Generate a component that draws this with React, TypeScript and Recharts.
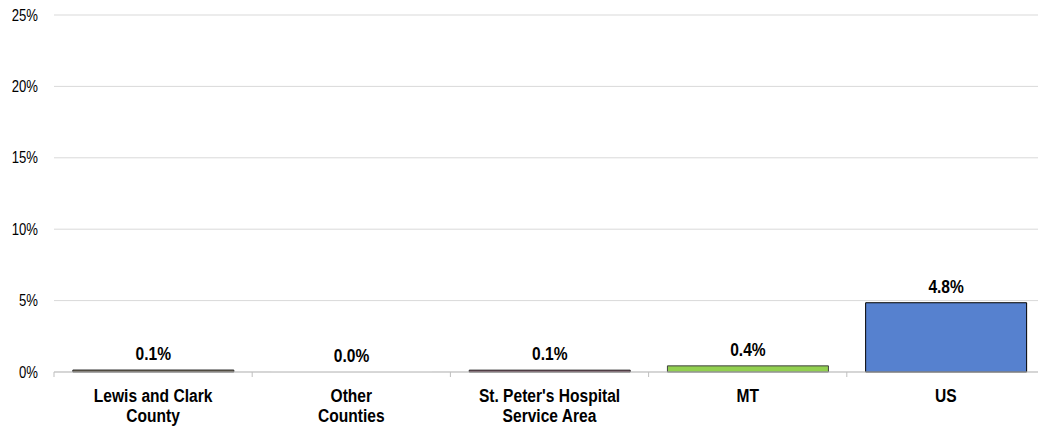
import React from "react";
import { BarChart, Bar, XAxis, YAxis, CartesianGrid, Cell, LabelList } from "recharts";

const categories = [
  "Lewis and Clark County",
  "Other Counties",
  "St. Peter's Hospital Service Area",
  "MT",
  "US",
];
const tickLines = [
  ["Lewis and Clark", "County"],
  ["Other", "Counties"],
  ["St. Peter's Hospital", "Service Area"],
  ["MT"],
  ["US"],
];
const values = [0.14, 0.01, 0.13, 0.43, 4.85];
const valueLabels = ["0.1%", "0.0%", "0.1%", "0.4%", "4.8%"];
const fills = ["#6f6450", "#ffffff", "#7a3450", "#92d050", "#5681cf"];
const strokes = ["#333333", "none", "#262626", "#404040", "#000000"];
const yTicks = [0, 5, 10, 15, 20, 25];

const data = categories.map((c, i) => ({
  name: c,
  value: values[i],
  label: valueLabels[i],
}));

const FONT = "'Liberation Sans', Arial, sans-serif";
const SX = 0.82;

const XTick = (props: any) => {
  const { x, y, payload } = props;
  const lines = tickLines[payload.index] || [String(payload.value)];
  const half = payload.offset || 0;
  const isLast = payload.index === categories.length - 1;
  return (
    <g>
      <line x1={x - half} x2={x - half} y1={y} y2={y + 5} stroke="#bfbfbf" strokeWidth={1} />
      {isLast && (
        <line x1={x + half} x2={x + half} y1={y} y2={y + 5} stroke="#bfbfbf" strokeWidth={1} />
      )}
      <g transform={`translate(${x},${y}) scale(${SX},1)`}>
        <text x={0} y={0} textAnchor="middle" fontFamily={FONT} fontWeight="bold" fontSize={19} fill="#000">
          {lines.map((l: string, i: number) => (
            <tspan key={i} x={0} dy={i === 0 ? 30 : 20}>
              {l}
            </tspan>
          ))}
        </text>
      </g>
    </g>
  );
};

const YTick = (props: any) => {
  const { x, y, payload } = props;
  return (
    <g transform={`translate(${x},${y}) scale(${SX},1)`}>
      <text x={0} y={0} dy={5.5} textAnchor="end" fontFamily={FONT} fontSize={16} fill="#000">
        {`${payload.value}%`}
      </text>
    </g>
  );
};

const ValueLabel = (props: any) => {
  const { x, y, width, value } = props;
  const cx = x + width / 2;
  return (
    <g transform={`translate(${cx},${y - 10}) scale(${SX},1)`}>
      <text x={0} y={0} textAnchor="middle" fontFamily={FONT} fontWeight="bold" fontSize={19} fill="#000">
        {value}
      </text>
    </g>
  );
};

export default function App() {
  return (
    <div
      style={{
        position: "absolute",
        left: 0,
        top: 0,
        width: 1038,
        height: 430,
        overflow: "hidden",
        background: "#fff",
      }}
    >
      <BarChart
        width={1050}
        height={430}
        data={data}
        margin={{ top: 15, right: 5, left: 0, bottom: 0 }}
        barCategoryGap="9.5%"
      >
        <CartesianGrid vertical={false} stroke="#d9d9d9" strokeWidth={1} />
        <XAxis
          dataKey="name"
          axisLine={{ stroke: "#bfbfbf", strokeWidth: 1 }}
          tickLine={false}
          tickSize={0}
          tickMargin={0}
          interval={0}
          tick={<XTick />}
          height={58}
        />
        <YAxis
          width={54}
          domain={[0, 25]}
          ticks={yTicks}
          axisLine={false}
          tickLine={false}
          tickSize={0}
          tickMargin={16}
          tick={<YTick />}
        />
        <Bar dataKey="value" isAnimationActive={false} strokeWidth={1}>
          {data.map((d, i) => (
            <Cell key={i} fill={fills[i]} stroke={strokes[i]} />
          ))}
          <LabelList dataKey="label" content={<ValueLabel />} />
        </Bar>
      </BarChart>
    </div>
  );
}
